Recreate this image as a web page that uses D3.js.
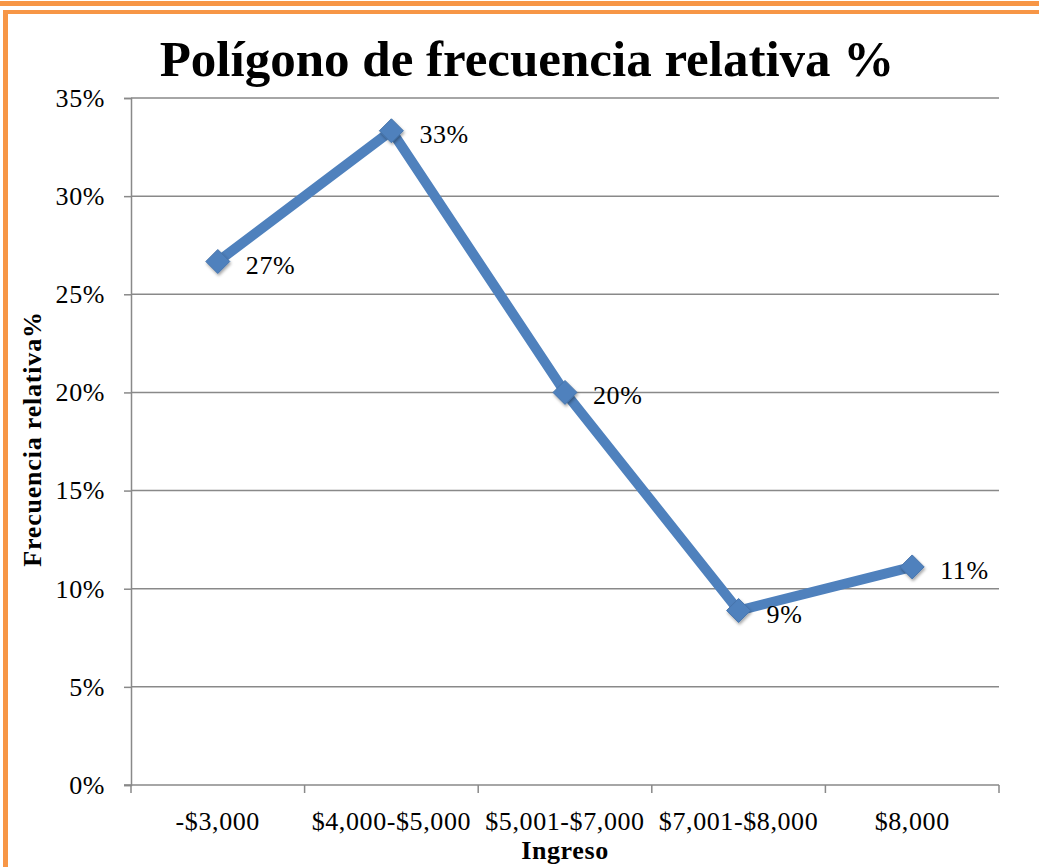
<!DOCTYPE html>
<html>
<head>
<meta charset="utf-8">
<script src="https://cdn.jsdelivr.net/npm/d3@7"></script>
<style>
  html, body { margin: 0; padding: 0; background: #fff; }
  svg { display: block; }
  text { font-family: "Liberation Serif", "Times New Roman", serif; fill: #000; }
</style>
</head>
<body>
<div id="chart"></div>
<script>
// chart values
const categories = ["-$3,000", "$4,000-$5,000", "$5,001-$7,000", "$7,001-$8,000", "$8,000"];
const relFreq = [0.2667, 0.3333, 0.2000, 0.0889, 0.1111];
const pointLabels = ["27%", "33%", "20%", "9%", "11%"];
const yTicks = [0, 0.05, 0.10, 0.15, 0.20, 0.25, 0.30, 0.35];

const chartTitle = "Polígono de frecuencia relativa %";
const xTitle = "Ingreso";
const yTitle = "Frecuencia relativa%";

const W = 1039, H = 867;
let margin = {top: 98, right: 40, bottom: 82, left: 131};

let svg = d3.select("#chart").append("svg")
  .attr("width", W)
  .attr("height", H);

// marker shadow
let defs = svg.append("defs");
defs.append("filter").attr("id", "shadow")
  .attr("x", "-50%").attr("y", "-50%").attr("width", "200%").attr("height", "200%")
  .append("feDropShadow")
  .attr("dx", 1).attr("dy", 2).attr("stdDeviation", 1.5)
  .attr("flood-color", "#000").attr("flood-opacity", 0.35);

// orange frame bits (surrounding document boxes)
const orange = "#f79646";
svg.append("rect").attr("x", 0).attr("y", 1).attr("width", W).attr("height", 5).attr("fill", orange);
svg.append("rect").attr("x", 3).attr("y", 10).attr("width", W - 3).attr("height", 4).attr("fill", orange);
svg.append("rect").attr("x", 3).attr("y", 10).attr("width", 5).attr("height", H - 10).attr("fill", orange);

let x = d3.scaleBand()
  .domain(categories)
  .range([margin.left, W - margin.right])
  .padding(0);

let y = d3.scaleLinear()
  .domain([0, 0.35])
  .range([H - margin.bottom, margin.top]);

const gridColor = "#898989";
const labelSize = "26px";
const labelSpacing = "0.6px";

// horizontal gridlines
svg.append("g")
  .selectAll("line")
  .data(yTicks.filter(d => d > 0))
  .join("line")
  .attr("x1", margin.left)
  .attr("x2", W - margin.right)
  .attr("y1", d => y(d))
  .attr("y2", d => y(d))
  .attr("stroke", gridColor)
  .attr("stroke-width", 1.5);

// y axis
let yAxis = svg.append("g")
  .attr("transform", "translate(" + margin.left + ",0)")
  .call(d3.axisLeft(y).tickValues(yTicks).tickFormat(d3.format(".0%")).tickSize(7).tickPadding(19));
yAxis.select(".domain").attr("stroke", gridColor).attr("stroke-width", 1.5);
yAxis.selectAll(".tick line").attr("stroke", gridColor).attr("stroke-width", 1.5);
yAxis.selectAll(".tick text")
  .style("font-family", "Liberation Serif, serif")
  .style("font-size", labelSize)
  .style("letter-spacing", labelSpacing)
  .attr("fill", "#000");

// x axis with tick marks on the category boundaries
let bounds = categories.map(c => x(c)).concat([x.range()[1]]);
let xAxisG = svg.append("g")
  .attr("transform", "translate(0," + y(0) + ")");
xAxisG.append("line")
  .attr("x1", margin.left - 7).attr("x2", W - margin.right)
  .attr("stroke", gridColor).attr("stroke-width", 1.5);
xAxisG.selectAll("line.tk")
  .data(bounds)
  .join("line")
  .attr("class", "tk")
  .attr("x1", d => d).attr("x2", d => d)
  .attr("y1", 0).attr("y2", 8)
  .attr("stroke", gridColor).attr("stroke-width", 1.5);
xAxisG.selectAll("text")
  .data(categories)
  .join("text")
  .attr("x", d => x(d) + x.bandwidth() / 2)
  .attr("y", 45)
  .attr("text-anchor", "middle")
  .style("font-size", labelSize)
  .style("letter-spacing", labelSpacing)
  .text(d => d);

// line
let line = d3.line()
  .x((d, i) => x(categories[i]) + x.bandwidth() / 2)
  .y(d => y(d));

svg.append("path")
  .datum(relFreq)
  .attr("d", line)
  .attr("fill", "none")
  .attr("stroke", "#4f81bd")
  .attr("stroke-width", 10)
  .attr("stroke-linejoin", "miter");

// diamond markers
svg.append("g")
  .selectAll("path")
  .data(relFreq)
  .join("path")
  .attr("transform", (d, i) => "translate(" + (x(categories[i]) + x.bandwidth() / 2) + "," + y(d) + ")")
  .attr("d", "M0,-12L12,0L0,12L-12,0Z")
  .attr("fill", "#4f81bd")
  .attr("stroke", "#4674ab")
  .attr("stroke-width", 1)
  .attr("filter", "url(#shadow)");

// data labels
svg.append("g")
  .selectAll("text")
  .data(relFreq)
  .join("text")
  .attr("x", (d, i) => x(categories[i]) + x.bandwidth() / 2 + 28)
  .attr("y", d => y(d) + 12)
  .style("font-size", labelSize)
  .style("letter-spacing", labelSpacing)
  .text((d, i) => pointLabels[i]);

// titles
svg.append("text")
  .attr("x", 527)
  .attr("y", 76)
  .attr("text-anchor", "middle")
  .style("font-size", "51px")
  .style("font-weight", "bold")
  .text(chartTitle);

svg.append("text")
  .attr("x", 565)
  .attr("y", 859)
  .attr("text-anchor", "middle")
  .style("font-size", "26px")
  .style("font-weight", "bold")
  .style("letter-spacing", "0.6px")
  .text(xTitle);

svg.append("text")
  .attr("transform", "translate(41,439) rotate(-90)")
  .attr("text-anchor", "middle")
  .style("font-size", "26px")
  .style("font-weight", "bold")
  .style("letter-spacing", "0.8px")
  .text(yTitle);
</script>
</body>
</html>
